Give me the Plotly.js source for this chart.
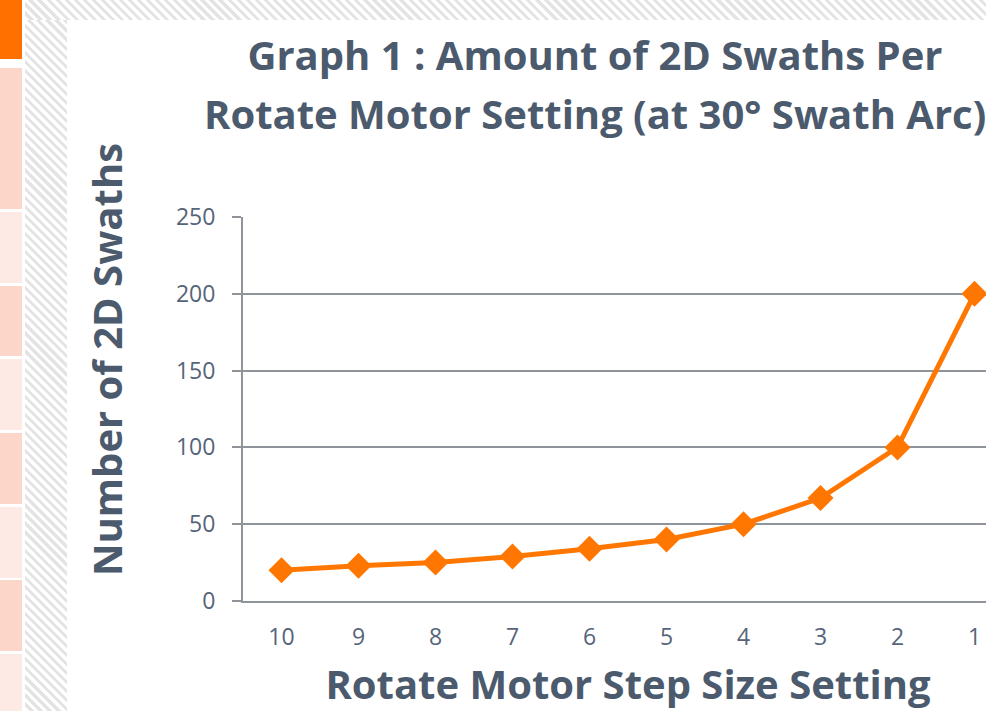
<!DOCTYPE html>
<html>
<head>
<meta charset="utf-8">
<script src="https://cdn.plot.ly/plotly-3.0.1.min.js"></script>
<style>
  html, body { margin: 0; padding: 0; width: 986px; height: 711px; overflow: hidden; background: #ffffff; }
  #stage { position: relative; width: 986px; height: 711px; overflow: hidden; }
  .hatch {
    position: absolute;
    background: repeating-linear-gradient(45deg, #ffffff 0px, #ffffff 3.4px, #e4e4e4 3.4px, #e4e4e4 6.4px);
  }
  .blk { position: absolute; left: 0; width: 22px; }
  #chart { position: absolute; left: 0; top: 0; }
</style>
</head>
<body>
<div id="stage">
  <!-- slide decoration: side tabs and hatched frame -->
  <div class="hatch" style="left:25px; top:0; width:42px; height:711px;"></div>
  <div class="hatch" style="left:25px; top:0; width:961px; height:20px;"></div>
  <div class="blk" style="top:0; height:59px; background:#ff7000;"></div>
  <div class="blk" style="top:68px; height:141px; background:#fdd6ca;"></div>
  <div class="blk" style="top:212px; height:71px; background:#fdeae4;"></div>
  <div class="blk" style="top:286px; height:70px; background:#fdd6ca;"></div>
  <div class="blk" style="top:359px; height:71px; background:#fdeae4;"></div>
  <div class="blk" style="top:433px; height:71px; background:#fdd6ca;"></div>
  <div class="blk" style="top:507px; height:71px; background:#fdeae4;"></div>
  <div class="blk" style="top:580px; height:71px; background:#fdd6ca;"></div>
  <div class="blk" style="top:654px; height:57px; background:#fdeae4;"></div>
  <div id="chart"></div>
</div>
<script>
// Rotate motor step size settings and the resulting swath counts
const stepSettings = ['10', '9', '8', '7', '6', '5', '4', '3', '2', '1'];
const swathCounts = [20, 23, 25, 29, 34, 40, 50, 67, 100, 200];
const yTicks = [0, 50, 100, 150, 200, 250];
const titleLines = ['Graph 1 : Amount of 2D Swaths Per', 'Rotate Motor Setting (at 30° Swath Arc)'];
const xTitle = 'Rotate Motor Step Size Setting';
const yTitle = 'Number of 2D Swaths';

const textColor = '#4b5a6c';
const tickColor = '#56647a';
const gridColor = '#8f939a';
const orange = '#ff7700';
const fontFamily = '"Open Sans", Lato, sans-serif';

// plot area geometry in page pixels
const W = 1040, H = 711;
const M = { l: 243, r: 27, t: 217, b: 110 };
const plotW = W - M.l - M.r;
const plotH = H - M.t - M.b;
const px2x = px => (px - M.l) / plotW;
const py2y = py => (H - M.b - py) / plotH;

const trace = {
  x: stepSettings,
  y: swathCounts,
  type: 'scatter',
  mode: 'lines+markers',
  line: { color: orange, width: 5 },
  marker: { symbol: 'diamond', size: 20, color: orange },
  cliponaxis: false,
  hoverinfo: 'x+y'
};

const titleFont = { family: fontFamily, size: 40, weight: 'bold', color: textColor };

const layout = {
  width: W,
  height: H,
  margin: M,
  paper_bgcolor: 'rgba(0,0,0,0)',
  plot_bgcolor: 'rgba(0,0,0,0)',
  showlegend: false,
  shapes: [{
    type: 'rect', xref: 'paper', yref: 'paper', layer: 'below',
    x0: px2x(67), x1: px2x(W), y0: py2y(H), y1: py2y(20),
    fillcolor: '#ffffff', line: { width: 0 }
  }],
  title: {
    text: titleLines[0],
    font: titleFont,
    xref: 'paper', x: px2x(595), xanchor: 'center',
    yref: 'container', y: 1 - 56 / H, yanchor: 'middle'
  },
  annotations: [{
    text: titleLines[1],
    font: titleFont,
    xref: 'paper', yref: 'paper',
    x: px2x(595), y: py2y(114),
    xanchor: 'center', yanchor: 'middle',
    showarrow: false
  }, {
    text: yTitle,
    font: titleFont,
    textangle: -90,
    xref: 'paper', yref: 'paper',
    x: px2x(106), y: py2y(360),
    xanchor: 'center', yanchor: 'middle',
    showarrow: false
  }],
  xaxis: {
    type: 'category',
    categoryorder: 'array',
    categoryarray: stepSettings,
    range: [-0.5, 9.5],
    showgrid: false,
    showline: true,
    linecolor: gridColor,
    linewidth: 2,
    ticks: '',
    ticklabelstandoff: 14,
    tickfont: { family: fontFamily, size: 23, color: tickColor },
    title: {
      text: xTitle,
      font: titleFont,
      standoff: 21
    },
    fixedrange: true
  },
  yaxis: {
    range: [0, 250],
    tickvals: yTicks,
    ticktext: yTicks.map(String),
    showgrid: true,
    gridcolor: gridColor,
    gridwidth: 2,
    zeroline: false,
    showline: true,
    linecolor: gridColor,
    linewidth: 2,
    ticks: 'outside',
    ticklen: 9,
    tickwidth: 2,
    tickcolor: gridColor,
    ticklabelstandoff: 12,
    tickfont: { family: fontFamily, size: 23, color: tickColor },
    fixedrange: true
  }
};

Plotly.newPlot('chart', [trace], layout, { displayModeBar: false, staticPlot: true });
</script>
</body>
</html>
